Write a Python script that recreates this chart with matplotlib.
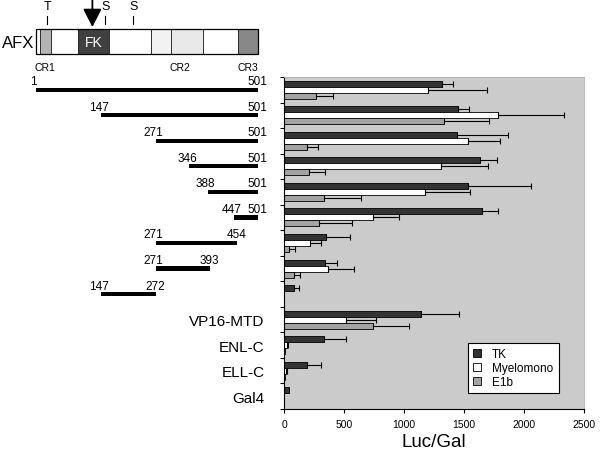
import matplotlib.pyplot as plt
import numpy as np
from matplotlib.patches import Rectangle

plt.rcParams.update({
    'font.family': ['Liberation Sans', 'DejaVu Sans'],
    'font.size': 8,
})

# AFX deletion constructs (residue ranges) and control fusions
construct_start = [1, 147, 271, 346, 388, 447, 271, 271, 147]
construct_end = [501, 501, 501, 501, 501, 501, 454, 393, 272]
controls = ['VP16-MTD', 'ENL-C', 'ELL-C', 'Gal4']

# Luc/Gal activity per cell line (13 rows: 9 constructs + 4 controls)
tk = [1320, 1450, 1440, 1630, 1530, 1650, 350, 345, 85, 1140, 335, 195, 45]
tk_err = [90, 90, 430, 145, 530, 135, 200, 100, 40, 320, 185, 110, 0]
myelo = [1200, 1785, 1530, 1305, 1175, 745, 215, 370, 0, 515, 25, 15, 0]
myelo_err = [495, 545, 270, 395, 375, 210, 90, 215, 0, 255, 10, 6, 0]
e1b = [265, 1330, 190, 205, 335, 290, 45, 80, 0, 745, 12, 8, 0]
e1b_err = [145, 380, 90, 135, 305, 280, 50, 55, 0, 300, 0, 0, 0]

series = ['TK', 'Myelomono', 'E1b']
colors = ['#333333', '#ffffff', '#a3a3a3']

# AFX domain map (residue boundaries) and sites
domain_edges = [1, 10, 35, 96, 165, 260, 305, 377, 456, 501]
domain_colors = ['white', '#b4b4b4', 'white', '#404040', 'white',
                 '#f2f2f2', '#e9e9e9', 'white', '#888888']
sites = [('T', 26), ('S', 157), ('S', 220)]
arrow_site = 128
regions = [('CR1', 21), ('CR2', 325), ('CR3', 478)]

W, H = 600, 452
fig = plt.figure(figsize=(6, 4.52), dpi=100)

# main bar chart
ax = fig.add_axes([284 / W, 1 - 410 / H, 300 / W, 332 / H])
ax.set_facecolor('#cbcbcb')
n = len(tk)
y = np.arange(n)
h = 0.235
vals = [tk, myelo, e1b]
errs = [tk_err, myelo_err, e1b_err]
for k in range(3):
    v = np.array(vals[k])
    e = np.array(errs[k])
    ax.barh(y + (k - 1) * h, v, height=h, color=colors[k], edgecolor='black',
            linewidth=0.6, label=series[k])
    m = e > 0
    ax.errorbar(v[m], (y + (k - 1) * h)[m], xerr=[np.zeros(m.sum()), e[m]],
                fmt='none', ecolor='black', elinewidth=0.8, capsize=2.2, capthick=0.8)

ax.set_xlim(0, 2500)
ax.set_ylim(n - 0.5, -0.5)
ax.set_xticks(np.arange(0, 2501, 500))
ax.tick_params(axis='x', direction='out', length=3, labelsize=7.5, pad=4)
ax.set_yticks(np.arange(-0.5, n, 1))
ax.set_yticklabels([])
ax.tick_params(axis='y', which='major', direction='out', length=3)
ax.set_yticks(y, [''] * len(construct_start) + controls, minor=True)
ax.tick_params(axis='y', which='minor', length=0, labelsize=11, pad=14)
ax.set_xlabel('Luc/Gal', fontsize=13.5, labelpad=3)
for s in ['top', 'right']:
    ax.spines[s].set_color('#b0b0b0')
    ax.spines[s].set_linewidth(0.6)

leg = ax.legend(loc='lower right', bbox_to_anchor=(0.935, 0.03), fontsize=8.5,
                frameon=True, fancybox=False, edgecolor='black', framealpha=1,
                handlelength=0.7, handleheight=0.7, handletextpad=0.9,
                borderpad=0.45, labelspacing=0.15)
leg.get_frame().set_linewidth(0.8)

# construct lines, sharing the row scale
res_lo = 1 - 36 * 500 / 222
res_hi = 1 + (284 - 36) * 500 / 222
axl = fig.add_axes([0, 1 - 410 / H, 284 / W, 332 / H])
axl.set_xlim(res_lo, res_hi)
axl.set_ylim(n - 0.5, -0.5)
axl.axis('off')
for i, (s, e) in enumerate(zip(construct_start, construct_end)):
    axl.barh(i, e - s, left=s, height=0.16, color='black')
    axl.text(s - 5, i - 0.1, str(s), ha='center', va='bottom', fontsize=8.5)
    axl.text(e - 2, i - 0.1, str(e), ha='center', va='bottom', fontsize=8.5)

# AFX domain map
axd = fig.add_axes([0, 1 - 80 / H, 284 / W, 80 / H])
axd.set_xlim(res_lo, res_hi)
axd.set_ylim(80, 0)
axd.axis('off')
for j in range(len(domain_colors)):
    axd.add_patch(Rectangle((domain_edges[j], 30), domain_edges[j + 1] - domain_edges[j], 25,
                            facecolor=domain_colors[j], edgecolor='#222222', linewidth=0.6))
axd.add_patch(Rectangle((domain_edges[0], 30), domain_edges[-1] - domain_edges[0], 25,
                        facecolor='none', edgecolor='black', linewidth=0.9))
axd.text((domain_edges[3] + domain_edges[4]) / 2, 43, 'FK', color='white',
         ha='center', va='center', fontsize=10)
axd.text(domain_edges[0] - 4, 43, 'AFX', ha='right', va='center', fontsize=12)
for lab, r in sites:
    axd.text(r, 10, lab, ha='center', va='baseline', fontsize=9)
    axd.plot([r, r], [17, 25], color='black', lw=0.8)
axd.annotate('', xy=(arrow_site, 28), xytext=(arrow_site, 0),
             arrowprops=dict(arrowstyle='-|>,head_length=0.37,head_width=0.19',
                             mutation_scale=30, lw=1.3, color='black',
                             shrinkA=0, shrinkB=0))
for lab, r in regions:
    axd.text(r, 68, lab, ha='center', va='center', fontsize=7.5)

fig.savefig('out.png', dpi=100)
